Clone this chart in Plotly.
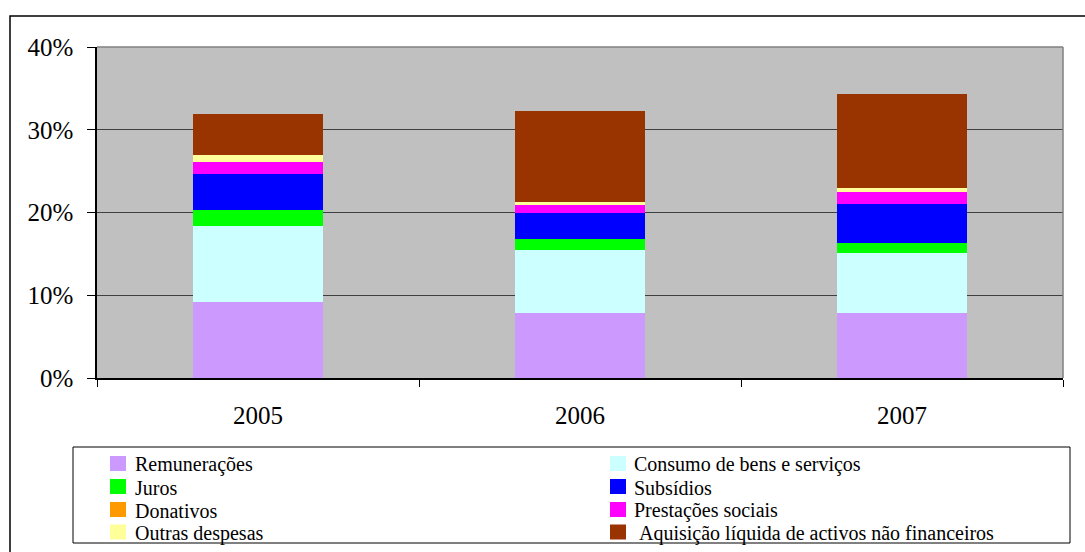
import plotly.graph_objects as go

years = ["2005", "2006", "2007"]
series_names = [
    "Remunerações",
    "Consumo de bens e serviços",
    "Juros",
    "Subsídios",
    "Donativos",
    "Prestações sociais",
    "Outras despesas",
    "\u00a0Aquisição líquida de activos não financeiros",
]
remuneracoes = [9.2, 7.85, 7.85]
consumo = [9.2, 7.6, 7.25]
juros = [1.9, 1.33, 1.2]
subsidios = [4.35, 3.14, 4.72]
donativos = [0.0, 0.0, 0.0]
prestacoes = [1.45, 1.09, 1.45]
outras = [0.85, 0.24, 0.48]
aquisicao = [5.0, 11.0, 11.35]
series_values = [remuneracoes, consumo, juros, subsidios, donativos, prestacoes, outras, aquisicao]
colors = ["#CC99FF", "#CCFFFF", "#00FF00", "#0000FF", "#FF9900", "#FF00FF", "#FFFF99", "#993300"]
y_ticks = [0, 10, 20, 30, 40]
y_ticktext = ["0%", "10%", "20%", "30%", "40%"]

W, H = 1085, 552
L, R, T, B = 97, 1063, 47, 378
FONT = "Liberation Serif"


def px2x(px):
    return (px - L) / (R - L)


def px2y(py):
    return (B - py) / (B - T)


fig = go.Figure()
for name, vals, col in zip(series_names, series_values, colors):
    fig.add_trace(go.Bar(x=years, y=vals, name=name, marker=dict(color=col, line=dict(width=0)),
                         showlegend=False))

shapes = []
annotations = []
# outer chart border
shapes.append(dict(type="rect", xref="paper", yref="paper", x0=px2x(10), x1=px2x(1100),
                   y0=px2y(570), y1=px2y(16), line=dict(color="#000000", width=1.5)))
# legend box
shapes.append(dict(type="rect", xref="paper", yref="paper", x0=px2x(73), x1=px2x(1070),
                   y0=px2y(543), y1=px2y(447), line=dict(color="#000000", width=1),
                   fillcolor="white"))
# plot frame (top/right gray)
shapes.append(dict(type="line", xref="paper", yref="paper", x0=0, x1=1, y0=1, y1=1,
                   line=dict(color="#808080", width=1.5)))
shapes.append(dict(type="line", xref="paper", yref="paper", x0=1, x1=1, y0=0, y1=1,
                   line=dict(color="#808080", width=1.5)))

sw_x = [110, 610]
tx_x = [134, 633]
row_y = [463.5, 486.5, 509.5, 532.0]
for i, (name, col) in enumerate(zip(series_names, colors)):
    c, r = i % 2, i // 2
    cy = row_y[r]
    shapes.append(dict(type="rect", xref="paper", yref="paper",
                       x0=px2x(sw_x[c]), x1=px2x(sw_x[c] + 16),
                       y0=px2y(cy + 7.5), y1=px2y(cy - 7.5),
                       line=dict(width=0), fillcolor=col))
    annotations.append(dict(x=px2x(tx_x[c]), y=px2y(cy + 1), xref="paper", yref="paper",
                            text=name, showarrow=False, xanchor="left", yanchor="middle",
                            borderpad=0,
                            font=dict(family=FONT, size=20, color="black")))

fig.update_layout(
    barmode="stack",
    bargap=0.596,
    width=W, height=H,
    margin=dict(l=L, r=W - R, t=T, b=H - B, pad=0),
    paper_bgcolor="white",
    plot_bgcolor="#C0C0C0",
    font=dict(family=FONT, size=25, color="black"),
    shapes=shapes,
    annotations=annotations,
    xaxis=dict(
        type="category",
        showgrid=False,
        showline=True, linecolor="black", linewidth=1.5,
        ticks="outside", tickson="boundaries", ticklen=7, tickcolor="black", tickwidth=1,
        ticklabelstandoff=14,
        tickfont=dict(family=FONT, size=25, color="black"),
    ),
    yaxis=dict(
        range=[0, 40],
        tickmode="array",
        tickvals=y_ticks,
        ticktext=y_ticktext,
        showgrid=True, gridcolor="#404040", gridwidth=1,
        showline=True, linecolor="black", linewidth=1.5,
        ticks="outside", ticklen=8, tickcolor="black", tickwidth=1,
        ticklabelstandoff=9,
        zeroline=False,
        tickfont=dict(family=FONT, size=25, color="black"),
    ),
)

fig.write_html("out.html", config={"displayModeBar": False},
               post_script="document.body.style.margin='0';")
